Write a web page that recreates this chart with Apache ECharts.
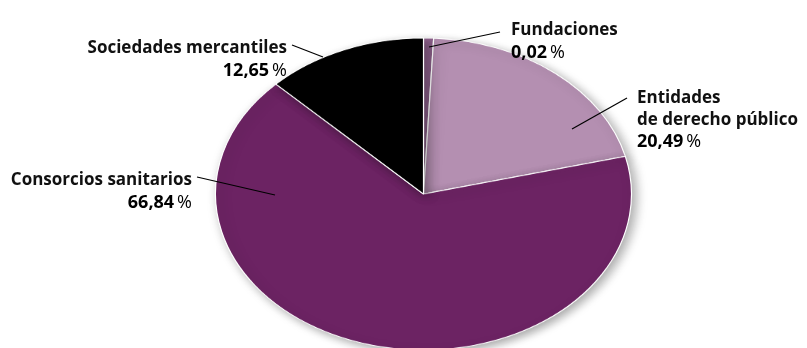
<!DOCTYPE html>
<html>
<head>
<meta charset="utf-8">
<script src="https://cdn.jsdelivr.net/npm/echarts@6/dist/echarts.min.js"></script>
<style>
  html, body { margin: 0; padding: 0; background: #fff; overflow: hidden; }
  #wrap { position: relative; width: 807px; height: 348px; overflow: hidden; }
  /* The pie is drawn as a circle and flattened into an ellipse */
  #pie { position: absolute; left: 0; top: 0; width: 807px; height: 464px;
         transform: scaleY(0.75); transform-origin: 0 0; }
  #labels { position: absolute; left: 0; top: 0; width: 807px; height: 348px; pointer-events: none; }
</style>
</head>
<body>
<div id="wrap">
  <div id="pie"></div>
  <div id="labels"></div>
</div>
<script>
// Share of each legal form (%)
const names = ['Fundaciones', 'Entidades\nde derecho público', 'Consorcios sanitarios', 'Sociedades mercantiles'];
const values = [0.02, 20.49, 66.84, 12.65];
const colors = ['#9a6a98', '#b48fb1', '#6c2363', '#000000'];

// Label placement: anchor point, alignment, leader line ends
const labelLayout = [
  { x: 511, y: 22, align: 'left',  line: [[429, 47], [500, 32]] },
  { x: 637, y: 90, align: 'left',  line: [[572, 129], [627, 98]] },
  { x: 192, y: 172, align: 'right', line: [[197, 177], [275, 195]] },
  { x: 287, y: 40, align: 'right', line: [[292, 45], [323, 57]] }
];

const FONT = '"Open Sans"';
const LINE_H = 21.5;

const pieChart = echarts.init(document.getElementById('pie'), null, { renderer: 'canvas' });
pieChart.setOption({
  animation: false,
  series: [{
    type: 'pie',
    center: [423.5, 258.7],
    radius: [0, 208],
    startAngle: 90,
    clockwise: true,
    minAngle: 2.8,
    label: { show: false },
    labelLine: { show: false },
    silent: true,
    itemStyle: {
      borderColor: '#ffffff',
      borderWidth: 1.2,
      shadowBlur: 12,
      shadowOffsetX: 4,
      shadowOffsetY: 4,
      shadowColor: 'rgba(0,0,0,0.35)'
    },
    data: names.map((n, i) => ({ name: n, value: values[i], itemStyle: { color: colors[i] } }))
  }]
});

const fmt = v => v.toFixed(2).replace('.', ',');

const elements = [];
names.forEach((n, i) => {
  const L = labelLayout[i];
  const lines = n.split('\n');
  lines.forEach((t, k) => {
    elements.push({
      type: 'text',
      x: L.x, y: L.y + k * LINE_H,
      style: {
        text: t, fill: '#111', align: L.align, verticalAlign: 'alphabetic',
        font: 'bold 17px ' + FONT
      }
    });
  });
  elements.push({
    type: 'text',
    x: L.x, y: L.y + lines.length * LINE_H,
    style: {
      text: '{v|' + fmt(values[i]) + '}{p|\u2009%}',
      align: L.align, verticalAlign: 'alphabetic',
      rich: {
        v: { fontFamily: FONT, fontWeight: 'bold', fontSize: 18, fill: '#000' },
        p: { fontFamily: FONT, fontWeight: 'normal', fontSize: 18, fill: '#000' }
      }
    }
  });
  elements.push({
    type: 'polyline',
    shape: { points: L.line },
    style: { stroke: '#000', lineWidth: 1.2, fill: null }
  });
});

const labelChart = echarts.init(document.getElementById('labels'), null, { renderer: 'canvas' });
labelChart.setOption({ animation: false, graphic: { elements } });
</script>
</body>
</html>
